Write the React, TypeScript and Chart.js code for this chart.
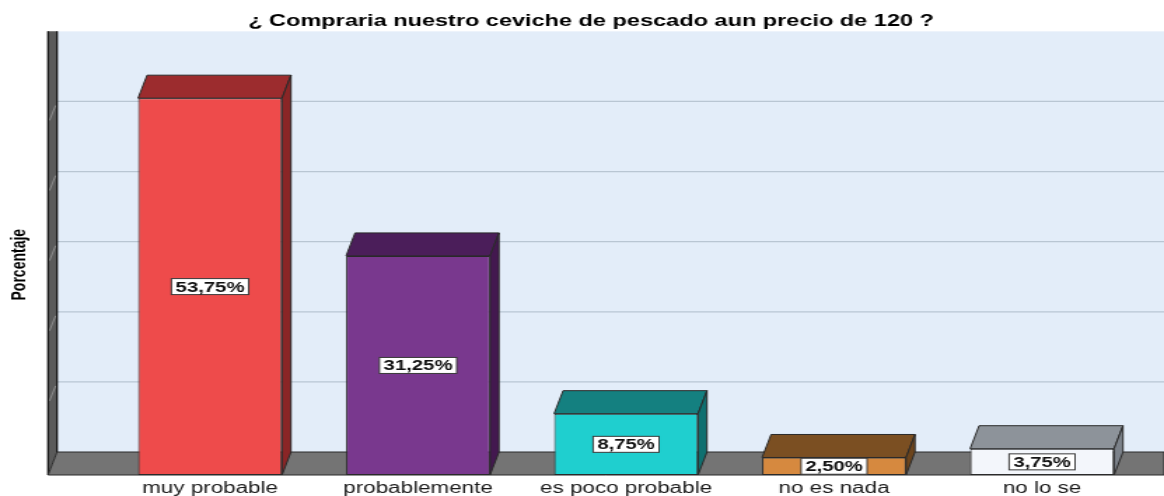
import React, { useEffect, useRef } from 'react';
import { Chart, registerables } from 'chart.js';

Chart.register(...registerables);

// ---- data ----
const chartTitle = '¿ Compraria nuestro ceviche de pescado aun precio de 120 ?';
const yAxisTitle = 'Porcentaje';
const categories = ['muy probable', 'probablemente', 'es poco probable', 'no es nada', 'no lo se'];
const percentages = [53.75, 31.25, 8.75, 2.5, 3.75];
const yMin = 0;
const yMax = 60;
const yStep = 10;

// ---- styles ----
const frontColors = ['#EE4B4B', '#79388E', '#1FCFCF', '#D6893F', '#F3F6FB'];
const topColors = ['#9C2C2E', '#4B1E5A', '#148080', '#7B4F22', '#8D939A'];
const sideColors = ['#8A2526', '#43184F', '#0F7070', '#6C441C', '#7C828A'];
const EDGE = '#2a2a2a';
const WALL_BG = '#E3EDF9';
const GRID = '#B9C6D3';
const FLOOR = '#747474';
const SIDE_WALL = '#5a5a5a';

// canvas is drawn narrower and stretched horizontally, like the reference picture
const CANVAS_W = 831;
const CANVAS_H = 496;
const DISPLAY_W = 1164;
const DEPTH_X = 6.4;
const DEPTH_Y = -23;
const FLOOR_LEFT = 34.3;
const PAD_LEFT = 25.7;
const FONT = '"Liberation Sans", Arial, sans-serif';

const fmt = (v: number) => v.toFixed(2).replace('.', ',') + '%';

const threeDPlugin = {
  id: 'threeD',
  beforeDatasetsDraw(chart: any) {
    const { ctx } = chart;
    const y = chart.scales.y;
    const W = chart.width;
    const wallLeft = FLOOR_LEFT + DEPTH_X;
    const front0 = y.getPixelForValue(0);
    const back0 = front0 + DEPTH_Y;
    const topBack = y.getPixelForValue(yMax) + DEPTH_Y;
    ctx.save();
    // back wall
    ctx.fillStyle = WALL_BG;
    ctx.fillRect(wallLeft, topBack, W - wallLeft, back0 - topBack);
    // grid lines on the back wall
    ctx.strokeStyle = GRID;
    ctx.lineWidth = 1.2;
    y.ticks.forEach((t: any) => {
      if (t.value <= yMin || t.value >= yMax) return;
      const py = y.getPixelForValue(t.value) + DEPTH_Y;
      ctx.beginPath();
      ctx.moveTo(wallLeft, py);
      ctx.lineTo(W, py);
      ctx.stroke();
    });
    // left side wall (seen edge-on)
    ctx.fillStyle = SIDE_WALL;
    ctx.beginPath();
    ctx.moveTo(FLOOR_LEFT, topBack);
    ctx.lineTo(wallLeft, topBack);
    ctx.lineTo(wallLeft, back0);
    ctx.lineTo(FLOOR_LEFT, front0);
    ctx.closePath();
    ctx.fill();
    ctx.strokeStyle = '#9a9a9a';
    ctx.lineWidth = 0.8;
    y.ticks.forEach((t: any) => {
      if (t.value <= yMin || t.value >= yMax) return;
      const pf = y.getPixelForValue(t.value);
      ctx.beginPath();
      ctx.moveTo(FLOOR_LEFT + 1, pf - 4);
      ctx.lineTo(wallLeft - 1, pf + DEPTH_Y + 4);
      ctx.stroke();
    });
    ctx.strokeStyle = '#151515';
    ctx.lineWidth = 1.3;
    ctx.beginPath();
    ctx.moveTo(FLOOR_LEFT, topBack);
    ctx.lineTo(FLOOR_LEFT, front0);
    ctx.moveTo(wallLeft, topBack);
    ctx.lineTo(wallLeft, back0);
    ctx.stroke();
    // floor
    ctx.fillStyle = FLOOR;
    ctx.beginPath();
    ctx.moveTo(FLOOR_LEFT, front0);
    ctx.lineTo(wallLeft, back0);
    ctx.lineTo(W, back0);
    ctx.lineTo(W, front0);
    ctx.closePath();
    ctx.fill();
    ctx.strokeStyle = '#2a2a2a';
    ctx.lineWidth = 1;
    ctx.stroke();
    ctx.restore();
  },
  afterDatasetsDraw(chart: any) {
    const { ctx } = chart;
    const meta = chart.getDatasetMeta(0);
    ctx.save();
    meta.data.forEach((el: any, i: number) => {
      const { x, y, base, width } = el.getProps(['x', 'y', 'base', 'width'], true);
      const x0 = x - width / 2;
      const x1 = x + width / 2;
      ctx.lineWidth = 1;
      ctx.strokeStyle = EDGE;
      // top face
      ctx.fillStyle = topColors[i];
      ctx.beginPath();
      ctx.moveTo(x0, y);
      ctx.lineTo(x0 + DEPTH_X, y + DEPTH_Y);
      ctx.lineTo(x1 + DEPTH_X, y + DEPTH_Y);
      ctx.lineTo(x1, y);
      ctx.closePath();
      ctx.fill();
      ctx.stroke();
      // side face
      ctx.fillStyle = sideColors[i];
      ctx.beginPath();
      ctx.moveTo(x1, y);
      ctx.lineTo(x1 + DEPTH_X, y + DEPTH_Y);
      ctx.lineTo(x1 + DEPTH_X, base + DEPTH_Y);
      ctx.lineTo(x1, base);
      ctx.closePath();
      ctx.fill();
      ctx.stroke();
    });
    // value labels
    ctx.font = `bold 14.5px ${FONT}`;
    ctx.textAlign = 'center';
    ctx.textBaseline = 'middle';
    meta.data.forEach((el: any, i: number) => {
      const { x, y, base } = el.getProps(['x', 'y', 'base'], true);
      const txt = fmt(percentages[i]);
      const tw = ctx.measureText(txt).width;
      const bw = tw + 6;
      const bh = 16;
      const cy = (y + base) / 2;
      ctx.fillStyle = '#ffffff';
      ctx.fillRect(x - bw / 2, cy - bh / 2, bw, bh);
      ctx.strokeStyle = '#3a3a3a';
      ctx.lineWidth = 1;
      ctx.strokeRect(x - bw / 2, cy - bh / 2, bw, bh);
      ctx.fillStyle = '#111111';
      ctx.fillText(txt, x, cy + 1);
    });
    ctx.restore();
  },
};

export default function App() {
  const ref = useRef<HTMLCanvasElement>(null);

  useEffect(() => {
    if (!ref.current) return;
    const chart = new Chart(ref.current, {
      type: 'bar',
      data: {
        labels: categories,
        datasets: [
          {
            label: yAxisTitle,
            data: percentages,
            backgroundColor: frontColors,
            borderColor: EDGE,
            borderWidth: 1,
            borderSkipped: false,
            categoryPercentage: 1,
            barPercentage: 0.692,
          },
        ],
      },
      options: {
        responsive: false,
        devicePixelRatio: 1,
        animation: false,
        events: [],
        layout: { padding: { left: PAD_LEFT, right: 12.8, top: 0, bottom: 0 } },
        plugins: {
          legend: { display: false },
          tooltip: { enabled: false },
          title: {
            display: true,
            text: chartTitle,
            color: '#000',
            font: { family: FONT, size: 16.8, weight: 'bold' },
            padding: { top: 11, bottom: 23.2 },
          },
        },
        scales: {
          x: {
            type: 'category',
            offset: true,
            grid: { display: false, drawTicks: false },
            border: { display: false },
            ticks: {
              color: '#1a1a1a',
              font: { family: FONT, size: 16 },
              padding: 4,
              maxRotation: 0,
              autoSkip: false,
            },
            afterFit: (scale: any) => {
              scale.height = 21;
            },
          },
          y: {
            min: yMin,
            max: yMax,
            grid: { display: false, drawTicks: false },
            border: { display: false },
            ticks: { display: false, stepSize: yStep },
            title: {
              display: true,
              text: yAxisTitle,
              color: '#000',
              font: { family: FONT, size: 14, weight: 'bold' },
              padding: { top: 5.5 - PAD_LEFT, bottom: 0 },
            },
            afterFit: (scale: any) => {
              scale.width = 75.7 - PAD_LEFT;
            },
          },
        },
      },
      plugins: [threeDPlugin],
    });
    return () => chart.destroy();
  }, []);

  return (
    <div
      style={{
        position: 'fixed',
        left: 0,
        top: 0,
        width: DISPLAY_W,
        height: CANVAS_H,
        background: '#ffffff',
        overflow: 'hidden',
      }}
    >
      <canvas
        ref={ref}
        width={CANVAS_W}
        height={CANVAS_H}
        style={{ display: 'block', width: DISPLAY_W + 'px', height: CANVAS_H + 'px' }}
      />
    </div>
  );
}
